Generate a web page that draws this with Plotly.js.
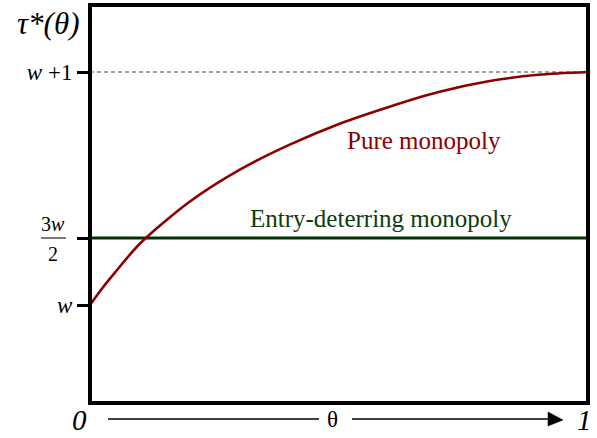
<!DOCTYPE html>
<html>
<head>
<meta charset="utf-8">
<script src="https://cdn.plot.ly/plotly-3.0.1.min.js"></script>
<style>html,body{margin:0;padding:0;background:#fff;}#chart{width:597px;height:438px;}</style>
</head>
<body>
<div id="chart"></div>
<script>
// ---- data ----
const w = 0.575;                       // level of w on the vertical scale
const entryLevel = 0.8625;             // 3w/2
const topLevel = 1.575;                // w+1
const theta = [0, 0.025, 0.05, 0.1, 0.2, 0.3, 0.4, 0.5, 0.6, 0.7, 0.8, 0.9, 1];
const pureMonopoly = [0.575, 0.648, 0.714, 0.838, 1.018, 1.155, 1.262, 1.352, 1.425, 1.489, 1.535, 1.563, 1.575];
const entryX = [0, 1];
const entryY = [entryLevel, entryLevel];
const topX = [0, 1];
const topY = [topLevel, topLevel];
const tickVals = [w, entryLevel, topLevel];
const tickText = ['<i>w</i>', '', '<i>w</i> +1'];
const seriesLabels = ['Pure monopoly', 'Entry-deterring monopoly'];

const FONT = 'Liberation Serif, Times New Roman, DejaVu Serif, serif';
const RED = '#8b0000';
const GREEN = '#003300';

const traces = [
  {x: topX, y: topY, mode: 'lines', line: {color: '#444', width: 1.2, dash: '4px,3px'}, hoverinfo: 'skip', showlegend: false},
  {x: entryX, y: entryY, mode: 'lines', line: {color: GREEN, width: 3}, name: seriesLabels[1], showlegend: false},
  {x: theta, y: pureMonopoly, mode: 'lines', line: {color: RED, width: 2.6, shape: 'spline', smoothing: 0.8}, name: seriesLabels[0], showlegend: false}
];

const layout = {
  width: 597, height: 438,
  margin: {l: 90, r: 9, t: 5, b: 35},
  paper_bgcolor: '#fff', plot_bgcolor: '#fff',
  font: {family: FONT, color: '#000', size: 22},
  xaxis: {range: [0, 1], showgrid: false, zeroline: false, showticklabels: false, ticks: '', showline: false, fixedrange: true},
  yaxis: {range: [0.1544, 1.8626], showgrid: false, zeroline: false, showline: false,
          tickmode: 'array', tickvals: tickVals, ticktext: tickText,
          ticks: 'outside', ticklen: 12, tickwidth: 3, tickcolor: '#000',
          tickfont: {family: FONT, size: 23, color: '#000'}, ticklabelstandoff: 0, fixedrange: true},
  shapes: [
    {type: 'rect', xref: 'paper', yref: 'paper', x0: 0, x1: 1, y0: 0, y1: 1, line: {color: '#000', width: 4}, layer: 'above'},
    // fraction bar of 3w/2
    {type: 'line', xref: 'paper', yref: 'y', x0: -0.0984, x1: -0.0482, y0: entryLevel, y1: entryLevel, line: {color: '#222', width: 1.2}},
    // theta axis arrow
    {type: 'line', xref: 'paper', yref: 'paper', x0: 0.0361, x1: 0.4598, y0: -0.0402, y1: -0.0402, line: {color: '#000', width: 1.7}},
    {type: 'line', xref: 'paper', yref: 'paper', x0: 0.5261, x1: 0.925, y0: -0.0402, y1: -0.0402, line: {color: '#000', width: 1.7}},
    {type: 'path', xref: 'paper', yref: 'paper', path: 'M 0.9197 -0.0226 L 0.9498 -0.0427 L 0.9197 -0.0578 Z', fillcolor: '#000', line: {color: '#000', width: 0.5}}
  ],
  annotations: [
    {xref: 'paper', yref: 'paper', x: -0.0843, y: 0.9523, text: '<i>τ*(θ)</i>', showarrow: false, xanchor: 'center', yanchor: 'middle', font: {family: FONT, size: 31, color: '#000'}},
    {xref: 'paper', yref: 'y', x: -0.0733, y: entryLevel, yshift: 14, text: '3<i>w</i>', showarrow: false, xanchor: 'center', yanchor: 'middle', font: {family: FONT, size: 20, color: '#000'}},
    {xref: 'paper', yref: 'y', x: -0.0733, y: entryLevel, yshift: -16, text: '2', showarrow: false, xanchor: 'center', yanchor: 'middle', font: {family: FONT, size: 20, color: '#000'}},
    {xref: 'paper', yref: 'paper', x: -0.0201, y: -0.0879, text: '<i>0</i>', showarrow: false, xanchor: 'center', yanchor: 'bottom', font: {family: FONT, size: 29, color: '#000'}},
    {xref: 'paper', yref: 'paper', x: 0.993, y: -0.0879, text: '<i>1</i>', showarrow: false, xanchor: 'center', yanchor: 'bottom', font: {family: FONT, size: 29, color: '#000'}},
    {xref: 'paper', yref: 'paper', x: 0.486, y: -0.0427, text: 'θ', showarrow: false, xanchor: 'center', yanchor: 'middle', font: {family: FONT, size: 23, color: '#000'}},
    {xref: 'x', yref: 'y', x: 0.6707, y: 1.279, text: seriesLabels[0], showarrow: false, xanchor: 'center', yanchor: 'middle', font: {family: FONT, size: 25, color: RED}},
    {xref: 'x', yref: 'y', x: 0.5853, y: 0.948, text: seriesLabels[1], showarrow: false, xanchor: 'center', yanchor: 'middle', font: {family: FONT, size: 25, color: '#0d3d0d'}}
  ]
};

Plotly.newPlot('chart', traces, layout, {displayModeBar: false, staticPlot: true});
</script>
</body>
</html>
